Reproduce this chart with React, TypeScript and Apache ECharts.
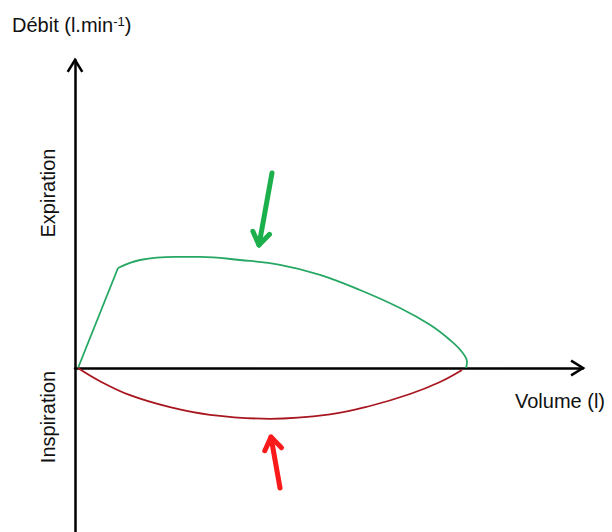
import React, { useEffect, useRef } from "react";
import * as echarts from "echarts";

// Expiration (green) loop: initial ramp then plateau/descending curve
const rampVolume = [0.03, 0.43];
const rampFlow = [0, 2.5];
const expVolume = [0.43, 0.65, 1.0, 1.25, 1.65, 2.05, 2.45, 2.85, 3.25, 3.55, 3.75, 3.87, 3.92, 3.91];
const expFlow = [2.5, 2.7, 2.78, 2.78, 2.7, 2.58, 2.33, 1.95, 1.5, 1.08, 0.7, 0.4, 0.15, 0];
// Inspiration (red) curve
const inspVolume = [0.03, 0.25, 0.55, 0.95, 1.35, 1.95, 2.55, 2.95, 3.35, 3.65, 3.87];
const inspFlow = [0, -0.33, -0.68, -0.98, -1.17, -1.27, -1.16, -0.95, -0.65, -0.35, -0.05];
// Annotation arrows [tailX, tailY, tipX, tipY]
const greenArrow = [1.97, 4.875, 1.84, 3.075];
const redArrow = [2.05, -3.0, 1.96, -1.725];

const X_MAX = 5.08;
const Y_MIN = -4.1;
const Y_MAX = 7.7;

const zip = (a: number[], b: number[]) => a.map((v, i) => [v, b[i]]);

function chevron(tip: number[], from: number[], len: number, ang: number) {
  const dx = from[0] - tip[0];
  const dy = from[1] - tip[1];
  const a = Math.atan2(dy, dx);
  const p1 = [tip[0] + len * Math.cos(a + ang), tip[1] + len * Math.sin(a + ang)];
  const p2 = [tip[0] + len * Math.cos(a - ang), tip[1] + len * Math.sin(a - ang)];
  return [p1, tip, p2];
}

export default function App() {
  const ref = useRef<HTMLDivElement>(null);
  useEffect(() => {
    if (!ref.current) return;
    const chart = echarts.init(ref.current, null, { renderer: "svg" });
    const font = "'Liberation Sans', Arial, sans-serif";
    chart.setOption({
      animation: false,
      backgroundColor: "#ffffff",
      grid: { left: 75, right: 29, top: 60, bottom: 0, containLabel: false },
      xAxis: {
        type: "value",
        min: 0,
        max: X_MAX,
        axisLine: { onZero: true, lineStyle: { color: "#000", width: 2.5 } },
        axisTick: { show: false },
        axisLabel: { show: false },
        splitLine: { show: false },
      },
      yAxis: {
        type: "value",
        min: Y_MIN,
        max: Y_MAX,
        axisLine: { show: true, onZero: false, lineStyle: { color: "#000", width: 2.5 } },
        axisTick: { show: false },
        axisLabel: { show: false },
        splitLine: { show: false },
      },
      series: [
        {
          type: "line",
          data: zip(rampVolume, rampFlow),
          showSymbol: false,
          lineStyle: { color: "#27a764", width: 1.8 },
          z: 3,
        },
        {
          type: "line",
          data: zip(expVolume, expFlow),
          smooth: 0.4,
          showSymbol: false,
          lineStyle: { color: "#27a764", width: 1.8 },
          z: 3,
        },
        {
          type: "line",
          data: zip(inspVolume, inspFlow),
          smooth: 0.4,
          showSymbol: false,
          lineStyle: { color: "#a8171f", width: 1.8 },
          z: 3,
        },
      ],
    });

    const px = (p: number[]) => chart.convertToPixel({ gridIndex: 0 }, p) as number[];
    const yTip = px([0, Y_MAX]);
    const yBase = px([0, 0]);
    const xTip = px([X_MAX, 0]);
    const gTail = px([greenArrow[0], greenArrow[1]]);
    const gTip = px([greenArrow[2], greenArrow[3]]);
    const rTail = px([redArrow[0], redArrow[1]]);
    const rTip = px([redArrow[2], redArrow[3]]);

    const textStyle = { fill: "#111", font: `20px ${font}` };

    chart.setOption({
      graphic: [
        {
          type: "polyline",
          shape: { points: chevron(yTip, yBase, 14, 0.55) },
          style: { stroke: "#000", lineWidth: 2.5, fill: null },
          z: 10,
        },
        {
          type: "polyline",
          shape: { points: chevron(xTip, yBase, 14, 0.55) },
          style: { stroke: "#000", lineWidth: 2.5, fill: null },
          z: 10,
        },
        {
          type: "line",
          shape: { x1: gTail[0], y1: gTail[1], x2: gTip[0], y2: gTip[1] },
          style: { stroke: "#1cb04c", lineWidth: 5, lineCap: "round" },
          z: 10,
        },
        {
          type: "polyline",
          shape: { points: chevron(gTip, gTail, 15, 0.6) },
          style: { stroke: "#1cb04c", lineWidth: 5, fill: null, lineCap: "round", lineJoin: "round" },
          z: 10,
        },
        {
          type: "line",
          shape: { x1: rTail[0], y1: rTail[1], x2: rTip[0], y2: rTip[1] },
          style: { stroke: "#fb1a1a", lineWidth: 5, lineCap: "round" },
          z: 10,
        },
        {
          type: "polyline",
          shape: { points: chevron(rTip, rTail, 15, 0.6) },
          style: { stroke: "#fb1a1a", lineWidth: 5, fill: null, lineCap: "round", lineJoin: "round" },
          z: 10,
        },
        {
          type: "text",
          x: 12,
          y: 25,
          style: {
            text: "{a|Débit (l.min}{s|-1}{a|)}",
            verticalAlign: "middle",
            align: "left",
            rich: {
              a: { fontSize: 20, fontFamily: font, fill: "#111", color: "#111" },
              s: { fontSize: 13, fontFamily: font, fill: "#111", color: "#111", verticalAlign: "top" },
            },
          },
          z: 10,
        },
        {
          type: "text",
          x: 515,
          y: 401,
          style: { ...textStyle, text: "Volume (l)", align: "left", verticalAlign: "middle" },
          z: 10,
        },
        {
          type: "text",
          x: 48,
          y: 193,
          rotation: Math.PI / 2,
          style: { ...textStyle, text: "Expiration", align: "center", verticalAlign: "middle" },
          z: 10,
        },
        {
          type: "text",
          x: 48,
          y: 417,
          rotation: Math.PI / 2,
          style: { ...textStyle, text: "Inspiration", align: "center", verticalAlign: "middle" },
          z: 10,
        },
      ],
    });
    return () => chart.dispose();
  }, []);
  return (
    <div
      ref={ref}
      style={{ position: "absolute", left: 0, top: 0, width: 612, height: 532 }}
    />
  );
}
